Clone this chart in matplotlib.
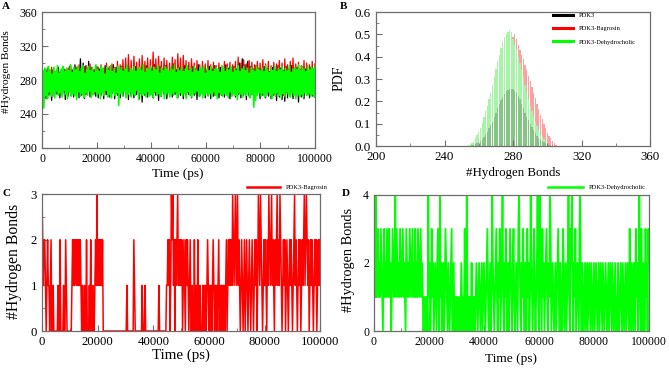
import numpy as np
import matplotlib
matplotlib.use('Agg')
import matplotlib.pyplot as plt
from matplotlib.ticker import MultipleLocator

plt.rcParams['font.family'] = ['Liberation Serif', 'DejaVu Serif']

# --- panel A: total H-bonds vs time ---
hb_pdk3 = [
    268, 252, 290, 258, 294, 262, 289, 256, 292, 260, 288, 263, 295, 259, 291, 262, 293, 257, 290, 261,
    296, 263, 292, 260, 298, 264, 294, 259, 305, 262, 300, 258, 297, 263, 302, 260, 295, 264, 292, 261,
    296, 259, 293, 262, 290, 258, 297, 263, 294, 260, 291, 264, 298, 258, 295, 262, 292, 259, 296, 261,
    293, 263, 297, 257, 294, 261, 290, 259, 296, 263, 292, 258, 295, 254, 293, 262, 297, 260, 291, 263,
    294, 259, 298, 262, 292, 256, 296, 261, 293, 263, 297, 258, 290, 262, 295, 260, 299, 263, 292, 259,
    295, 262, 291, 258, 297, 261, 294, 263, 290, 259, 296, 262, 293, 257, 298, 261, 292, 263, 295, 259,
    291, 262, 296, 258, 293, 261, 297, 263, 290, 259, 295, 262, 292, 260, 298, 263, 294, 258, 291, 262,
    296, 260, 293, 263, 300, 259, 305, 262, 298, 257, 302, 261, 296, 263, 293, 259, 297, 262, 294, 258,
    292, 262, 296, 259, 293, 261, 290, 258, 295, 262, 292, 256, 297, 260, 294, 257, 291, 255, 296, 259,
    293, 262, 297, 258, 291, 261, 295, 254, 292, 260, 296, 258, 293, 262, 290, 259, 295, 261, 292, 260]
hb_bagrosin = [
    268, 288, 262, 292, 266, 290, 264, 295, 268, 291, 265, 293, 270, 289, 264, 296, 267, 292, 263, 294,
    266, 297, 269, 293, 264, 295, 268, 298, 265, 292, 267, 296, 263, 294, 269, 299, 266, 293, 264, 297,
    268, 295, 265, 298, 267, 294, 263, 300, 268, 296, 266, 299, 270, 295, 264, 302, 267, 298, 265, 304,
    269, 306, 266, 310, 268, 303, 265, 308, 270, 301, 267, 305, 264, 309, 268, 302, 266, 306, 269, 304,
    267, 313, 265, 305, 270, 308, 266, 302, 268, 306, 264, 303, 269, 300, 266, 307, 268, 304, 265, 311,
    270, 306, 266, 309, 268, 303, 265, 301, 269, 305, 267, 300, 264, 303, 268, 298, 266, 302, 263, 299,
    266, 303, 264, 298, 268, 301, 262, 297, 266, 300, 264, 296, 268, 302, 265, 299, 263, 301, 267, 298,
    265, 302, 268, 307, 264, 300, 267, 304, 265, 299, 268, 303, 264, 301, 266, 298, 263, 302, 267, 300,
    266, 304, 264, 299, 268, 302, 265, 297, 263, 301, 267, 299, 264, 303, 266, 300, 262, 305, 265, 298,
    264, 302, 267, 306, 263, 299, 266, 301, 264, 297, 262, 303, 266, 300, 263, 298, 265, 302, 264, 299]
hb_dehydro = [
    256, 291, 247, 294, 262, 289, 258, 296, 266, 292, 261, 287, 264, 295, 259, 290, 267, 297, 262, 288,
    265, 293, 260, 296, 268, 290, 263, 294, 258, 291, 266, 298, 261, 289, 264, 295, 262, 292, 257, 296,
    266, 290, 261, 294, 264, 297, 259, 288, 265, 293, 262, 296, 267, 291, 260, 295, 263, 289, 266, 298,
    261, 292, 264, 290, 258, 296, 265, 293, 262, 287, 268, 295, 260, 291, 263, 297, 259, 290, 266, 294,
    262, 288, 265, 296, 250, 292, 264, 295, 261, 290, 267, 293, 259, 297, 263, 289, 266, 294, 260, 291,
    264, 296, 262, 290, 268, 293, 257, 295, 265, 291, 262, 298, 264, 289, 260, 294, 266, 292, 261, 296,
    263, 290, 259, 295, 266, 292, 262, 297, 264, 288, 261, 294, 267, 291, 258, 296, 263, 293, 265, 290,
    260, 295, 264, 292, 262, 298, 266, 289, 259, 294, 263, 291, 265, 296, 261, 290, 264, 293, 258, 297,
    266, 291, 262, 294, 260, 289, 265, 296, 263, 292, 267, 290, 261, 295, 264, 293, 259, 297, 262, 288,
    265, 294, 261, 291, 264, 296, 260, 290, 266, 293, 262, 295, 258, 292, 265, 289, 263, 297, 261, 294,
    264, 290, 262, 295, 259, 292, 266, 296, 261, 289, 264, 294, 262, 291, 257, 297, 265, 290, 263, 293,
    260, 296, 264, 291, 262, 294, 266, 288, 259, 295, 263, 292, 248, 290, 256, 296, 262, 293, 265, 291,
    261, 294, 264, 290, 260, 297, 263, 292, 266, 289, 262, 295, 258, 291, 264, 296, 261, 290, 265, 294,
    262, 292, 259, 296, 264, 290, 261, 294, 266, 291, 263, 297, 260, 289, 265, 293, 262, 295, 258, 292,
    264, 298, 261, 291, 263, 296, 260, 293, 265, 290, 262, 297, 264, 292, 261, 295, 263, 294, 260, 296]

# --- panel B: distribution of H-bond counts (one bin per integer) ---
bins_pdk3 = list(range(256, 305))
pdf_pdk3 = [0.004, 0.006, 0.01, 0.014, 0.02, 0.025, 0.03, 0.04, 0.05, 0.065, 0.08, 0.095, 0.11, 0.13,
            0.15, 0.17, 0.19, 0.205, 0.22, 0.233, 0.245, 0.25, 0.255, 0.257, 0.255, 0.248, 0.24, 0.225,
            0.21, 0.19, 0.17, 0.15, 0.13, 0.115, 0.1, 0.085, 0.07, 0.057, 0.045, 0.037, 0.03, 0.025,
            0.02, 0.015, 0.01, 0.007, 0.005, 0.003, 0.002]
bins_bagrosin = list(range(262, 306))
pdf_bagrosin = [0.01, 0.015, 0.02, 0.03, 0.045, 0.06, 0.08, 0.1, 0.13, 0.16, 0.2, 0.24, 0.28, 0.32, 0.36,
                0.4, 0.44, 0.47, 0.49, 0.5, 0.48, 0.455, 0.43, 0.41, 0.39, 0.365, 0.34, 0.315, 0.29,
                0.265, 0.24, 0.215, 0.19, 0.165, 0.14, 0.12, 0.1, 0.08, 0.06, 0.047, 0.035, 0.025,
                0.015, 0.005]
bins_dehydro = list(range(254, 302))
pdf_dehydro = [0.005, 0.01, 0.015, 0.02, 0.035, 0.05, 0.065, 0.08, 0.105, 0.13, 0.155, 0.18, 0.21, 0.24,
               0.275, 0.31, 0.345, 0.38, 0.41, 0.44, 0.465, 0.49, 0.5, 0.51, 0.52, 0.51, 0.48, 0.455,
               0.43, 0.4, 0.37, 0.34, 0.31, 0.275, 0.24, 0.21, 0.18, 0.155, 0.13, 0.11, 0.09, 0.07,
               0.05, 0.04, 0.03, 0.02, 0.01, 0.005]

# --- panel C: ligand-protein H-bonds, PDK3-Bagrosin (every 250 ps) ---
lig_bagrosin = [
    3, 2, 1, 2, 2, 1, 0, 1, 2, 1, 1, 0, 1, 2, 0, 0, 1, 0, 0, 0,
    0, 0, 0, 1, 0, 0, 2, 0, 0, 0, 0, 1, 0, 0, 2, 1, 0, 0, 0, 0,
    0, 0, 0, 1, 2, 1, 2, 1, 2, 2, 1, 2, 1, 2, 1, 2, 1, 0, 1, 0,
    0, 1, 0, 0, 2, 0, 0, 0, 1, 0, 2, 0, 0, 1, 0, 0, 1, 2, 1, 3,
    1, 2, 1, 2, 1, 2, 1, 2, 0, 0, 0, 0, 0, 0, 0, 0, 0, 0, 0, 0,
    0, 0, 0, 0, 0, 0, 0, 0, 0, 0, 0, 0, 0, 0, 0, 0, 0, 0, 0, 0,
    0, 0, 1, 0, 0, 0, 0, 0, 0, 0, 0, 0, 2, 1, 0, 0, 0, 0, 0, 0,
    0, 0, 0, 0, 1, 0, 0, 0, 1, 0, 0, 0, 0, 0, 0, 0, 0, 0, 0, 0,
    0, 0, 0, 0, 0, 0, 0, 0, 1, 0, 0, 0, 0, 0, 0, 0, 0, 0, 0, 1,
    1, 2, 1, 2, 0, 1, 3, 2, 3, 1, 2, 0, 2, 1, 2, 3, 1, 2, 1, 2,
    1, 2, 0, 1, 2, 1, 0, 2, 1, 2, 1, 0, 1, 2, 0, 0, 1, 0, 0, 2,
    0, 1, 0, 0, 2, 0, 0, 1, 0, 0, 0, 1, 0, 1, 0, 1, 0, 1, 2, 1,
    0, 1, 0, 1, 0, 1, 2, 1, 0, 1, 0, 1, 0, 1, 2, 0, 1, 0, 1, 0,
    1, 0, 1, 0, 1, 2, 0, 1, 2, 1, 2, 1, 2, 1, 3, 2, 1, 2, 3, 1,
    2, 3, 1, 2, 1, 0, 1, 2, 1, 0, 1, 2, 0, 1, 2, 1, 0, 1, 2, 1,
    0, 1, 2, 1, 0, 1, 2, 1, 2, 0, 1, 3, 2, 1, 3, 2, 1, 0, 1, 2,
    1, 2, 1, 0, 2, 1, 3, 2, 1, 2, 3, 1, 2, 1, 0, 2, 1, 2, 3, 1,
    2, 1, 3, 2, 1, 0, 1, 2, 1, 2, 0, 1, 2, 1, 0, 1, 2, 1, 2, 1,
    0, 1, 2, 3, 1, 2, 1, 0, 1, 2, 1, 2, 0, 1, 2, 1, 2, 3, 1, 2,
    3, 2, 1, 2, 0, 1, 2, 1, 2, 1, 0, 1, 2, 1, 2, 0, 1, 2, 1, 2, 1]

# --- panel D: ligand-protein H-bonds, PDK3-Dehydrocholic (every 250 ps) ---
lig_dehydro = [
    3, 1, 2, 4, 1, 2, 3, 1, 2, 1, 3, 2, 1, 0, 2, 3, 1, 2, 1, 3,
    2, 1, 3, 1, 2, 0, 1, 3, 2, 1, 2, 4, 1, 3, 2, 1, 2, 1, 3, 2,
    1, 2, 3, 1, 2, 1, 0, 3, 2, 1, 2, 1, 3, 2, 1, 2, 3, 1, 2, 1,
    3, 1, 2, 1, 3, 2, 1, 2, 3, 1, 2, 1, 0, 1, 0, 1, 0, 1, 0, 4,
    1, 2, 0, 1, 3, 1, 2, 0, 1, 2, 1, 0, 2, 3, 1, 0, 4, 1, 2, 0,
    1, 2, 0, 1, 3, 2, 1, 0, 2, 1, 0, 1, 2, 3, 0, 1, 2, 0, 1, 0,
    1, 0, 1, 0, 0, 1, 0, 2, 1, 0, 1, 0, 3, 1, 0, 4, 1, 0, 1, 0,
    1, 0, 2, 0, 1, 0, 1, 0, 1, 2, 1, 0, 1, 2, 1, 0, 1, 2, 0, 1,
    2, 1, 0, 1, 2, 3, 1, 0, 1, 2, 0, 1, 4, 2, 1, 0, 1, 2, 3, 1,
    0, 2, 1, 3, 0, 1, 2, 4, 1, 0, 2, 1, 3, 0, 1, 2, 0, 1, 3, 2,
    1, 0, 2, 3, 1, 0, 1, 2, 1, 0, 3, 4, 2, 1, 0, 2, 1, 3, 1, 0,
    2, 1, 0, 3, 1, 2, 0, 1, 4, 2, 1, 0, 2, 3, 1, 0, 1, 2, 4, 1,
    0, 4, 2, 1, 0, 3, 1, 2, 0, 1, 2, 3, 1, 0, 2, 1, 4, 3, 0, 1,
    2, 1, 0, 1, 2, 0, 1, 2, 3, 1, 0, 2, 1, 0, 1, 3, 2, 0, 1, 2,
    0, 1, 2, 4, 1, 0, 3, 2, 4, 1, 0, 2, 1, 3, 0, 1, 2, 1, 0, 3,
    4, 1, 0, 2, 1, 0, 1, 2, 0, 1, 2, 0, 1, 2, 1, 0, 2, 1, 0, 1,
    2, 0, 1, 2, 1, 0, 1, 2, 0, 1, 2, 1, 0, 2, 1, 0, 1, 2, 1, 0,
    1, 2, 0, 1, 2, 1, 0, 2, 1, 0, 1, 2, 0, 1, 0, 2, 1, 0, 1, 2,
    1, 0, 2, 1, 0, 1, 2, 0, 1, 2, 1, 0, 3, 1, 0, 2, 1, 0, 2, 1,
    0, 3, 1, 2, 0, 1, 4, 2, 0, 3, 1, 0, 2, 1, 0, 3, 1, 2, 0, 3, 2]

t_end = 100000
GREEN = '#00ff00'
RED = '#ff0000'
SPINE = '#6e6e6e'


def style(ax, xmaj, xmin, ymaj, ymin, fs):
    for s in ax.spines.values():
        s.set_color(SPINE)
        s.set_linewidth(0.9)
    ax.xaxis.set_major_locator(MultipleLocator(xmaj))
    ax.xaxis.set_minor_locator(MultipleLocator(xmin))
    ax.yaxis.set_major_locator(MultipleLocator(ymaj))
    ax.yaxis.set_minor_locator(MultipleLocator(ymin))
    ax.tick_params(which='both', direction='in', color=SPINE, labelsize=fs, pad=3.5)
    ax.tick_params(which='major', length=4)
    ax.tick_params(which='minor', length=2)


def small_legend(ax, handles, labels, anchor, hl, spacing=1.0):
    ax.legend(handles, labels, loc='upper left', bbox_to_anchor=anchor, frameon=False,
              fontsize=4.7, handlelength=hl, handletextpad=0.9, labelspacing=spacing,
              borderpad=0, borderaxespad=0)


fig = plt.figure(figsize=(6.69, 3.68), dpi=100)

# A
axA = fig.add_axes([0.0628, 0.598, 0.408, 0.369])
for vals, col, lw in [(hb_pdk3, 'black', 0.9), (hb_bagrosin, RED, 0.9), (hb_dehydro, GREEN, 1.2)]:
    axA.plot(np.linspace(0, t_end, len(vals)), vals, color=col, lw=lw)
axA.set_xlim(0, t_end)
axA.set_ylim(200, 360)
style(axA, 20000, 10000, 40, 20, 8.5)
axA.set_xlabel('Time (ps)', fontsize=9.5, va='top')
axA.xaxis.set_label_coords(0.498, -0.145)
axA.set_ylabel('#Hydrogen Bonds', fontsize=8.2)
axA.yaxis.set_label_coords(-0.114, 0.56)

# B: red under an opaque pale green, black shading laid over both
axB = fig.add_axes([0.562, 0.603, 0.41, 0.364])
axB.bar(bins_bagrosin, pdf_bagrosin, width=0.75, color='#ffa0a0', lw=0)
axB.bar(bins_dehydro, pdf_dehydro, width=0.75, color='#a6f5a6', lw=0)
axB.bar(bins_pdk3, pdf_pdk3, width=0.75, color='black', alpha=0.2, lw=0)
axB.set_xlim(200, 360)
axB.set_ylim(0, 0.6)
style(axB, 40, 20, 0.1, 0.05, 9.3)
axB.set_xlabel('#Hydrogen Bonds', fontsize=9.3, va='top')
axB.xaxis.set_label_coords(0.5, -0.155)
axB.set_ylabel('PDF', fontsize=10)
axB.yaxis.set_label_coords(-0.11, 0.51)
handles = [plt.Line2D([], [], color=c, lw=2.2) for c in ['black', RED, GREEN]]
small_legend(axB, handles, ['PDK3', 'PDK3-Bagrosin', 'PDK3-Dehydrocholic'], (0.646, 0.995), 3.1, 1.15)

# C
axC = fig.add_axes([0.0628, 0.1005, 0.416, 0.372])
axC.plot(np.linspace(0, t_end, len(lig_bagrosin)), lig_bagrosin, color=RED, lw=1.1)
axC.set_xlim(0, t_end)
axC.set_ylim(0, 3)
style(axC, 20000, 10000, 1, 0.5, 9.2)
axC.set_xlabel('Time (ps)', fontsize=10.8, va='top')
axC.xaxis.set_label_coords(0.5, -0.13)
axC.set_ylabel('#Hydrogen Bonds', fontsize=11.3)
axC.yaxis.set_label_coords(-0.072, 0.51)
small_legend(axC, [plt.Line2D([], [], color=RED, lw=1.8)], ['PDK3-Bagrosin'], (0.737, 1.07), 5.0)

# D
axD = fig.add_axes([0.559, 0.1005, 0.411, 0.370])
axD.plot(np.linspace(0, t_end, len(lig_dehydro)), lig_dehydro, color=GREEN, lw=1.3)
axD.set_xlim(0, t_end)
axD.set_ylim(0, 4)
style(axD, 20000, 10000, 2, 1, 8.5)
axD.set_xlabel('Time (ps)', fontsize=9.6, va='top')
axD.xaxis.set_label_coords(0.5, -0.165)
axD.set_ylabel('#Hydrogen Bonds', fontsize=10.3)
axD.yaxis.set_label_coords(-0.069, 0.52)
small_legend(axD, [plt.Line2D([], [], color=GREEN, lw=1.8)], ['PDK3-Dehydrocholic'], (0.633, 1.075), 5.3)

for lab, x, y in [('A', 0.003, 0.995), ('B', 0.508, 0.995), ('C', 0.004, 0.487), ('D', 0.511, 0.487)]:
    fig.text(x, y, lab, fontsize=8, fontweight='bold', va='top')

fig.savefig('out.png', dpi=100)
